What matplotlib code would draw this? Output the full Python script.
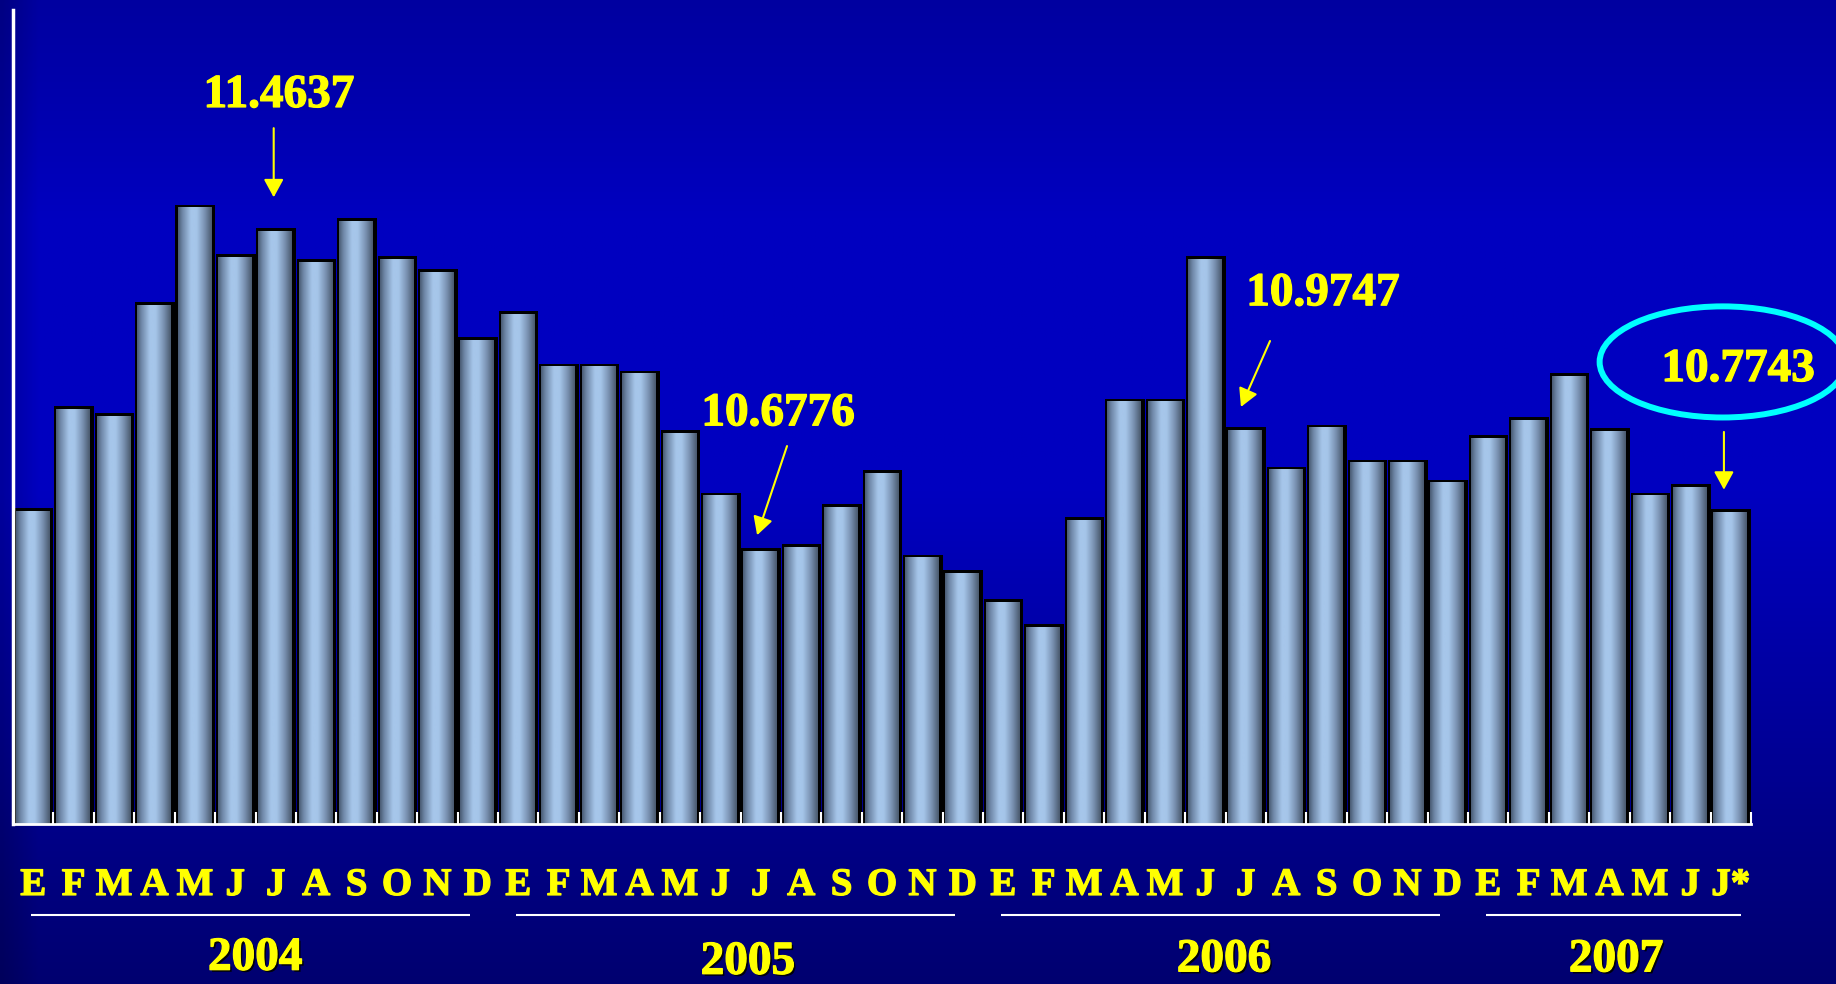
# 导入必要的库
import numpy as np  # 数值计算库
import matplotlib  # 绘图基础库
matplotlib.use('Agg')
import matplotlib.pyplot as plt  # 绘图库
from matplotlib.patches import Rectangle, Ellipse
from matplotlib.colors import LinearSegmentedColormap
import matplotlib.patheffects as pe

# 字体：Times 风格的粗体衬线字
plt.rcParams['font.family'] = ['Liberation Serif', 'DejaVu Serif']

# ---------- 数据 ----------
meses = ['E', 'F', 'M', 'A', 'M', 'J', 'J', 'A', 'S', 'O', 'N', 'D']
meses_2007 = ['E', 'F', 'M', 'A', 'M', 'J', 'J*']
anios = ['2004', '2005', '2006', '2007']

v2004 = [10.777, 11.027, 11.010, 11.283, 11.522, 11.401, 11.4637, 11.387, 11.488, 11.396, 11.364, 11.197]
v2005 = [11.260, 11.131, 11.131, 11.114, 10.967, 10.814, 10.6776, 10.688, 10.786, 10.869, 10.662, 10.624]
v2006 = [10.553, 10.492, 10.754, 11.045, 11.045, 11.396, 10.9747, 10.878, 10.981, 10.895, 10.895, 10.846]
v2007 = [10.955, 10.999, 11.108, 10.973, 10.814, 10.835, 10.7743]

# 需要标注的柱子（索引）
destacados = [6, 18, 30, 42]
etiquetas = ['11.4637', '10.6776', '10.9747', '10.7743']

valores = v2004 + v2005 + v2006 + v2007
letras = meses * 3 + meses_2007
grupos = [len(v2004), len(v2005), len(v2006), len(v2007)]

# ---------- 画布 ----------
fig = plt.figure(figsize=(18.36, 9.84), dpi=100)

# 背景渐变（深蓝）
bg = fig.add_axes([0, 0, 1, 1], zorder=-10)
bg.axis('off')
H, W = 400, 400
yy = np.linspace(0, 1, H)
azul = np.interp(yy, [0, 0.12, 0.22, 0.5, 0.75, 0.84, 0.93, 1.0],
                 [0xA0, 0xB0, 0xC0, 0xC0, 0x98, 0x88, 0x7A, 0x70]) / 255.0
xx = np.linspace(0, 1, W)
borde = np.interp(xx, [0, 0.02, 1], [0.82, 1.0, 1.0])
img = np.zeros((H, W, 3))
img[:, :, 2] = azul[:, None] * borde[None, :]
bg.imshow(img, aspect='auto', extent=[0, 1, 0, 1], origin='upper')
bg.set_xlim(0, 1)
bg.set_ylim(0, 1)

ax = fig.add_axes([13 / 1836, 160 / 984, 1738 / 1836, 814 / 984])
ax.set_facecolor('none')

# 柱子的横向渐变
cmap_bar = LinearSegmentedColormap.from_list('barra', [
    (0.0, '#4a5c74'), (0.12, '#6e86a6'), (0.38, '#a6c6ea'),
    (0.55, '#a6c6ea'), (0.8, '#7890b0'), (1.0, '#4a5a6e')])
grad = np.linspace(0, 1, 64)[None, :]

for i, v in enumerate(valores):
    # 黑色边框/阴影
    ax.add_patch(Rectangle((i - 0.48, 10), 0.98, v - 10, facecolor='black',
                           edgecolor='none', zorder=1))
    ax.imshow(grad, cmap=cmap_bar, aspect='auto', zorder=1.5,
              extent=[i - 0.43, i + 0.41, 10, v - 0.008], interpolation='bicubic')

ax.set_xlim(-0.5, len(valores) - 0.5)
ax.set_ylim(10, 12)

# 坐标轴样式
for s in ['top', 'right']:
    ax.spines[s].set_visible(False)
ax.spines['left'].set_color('white')
ax.spines['left'].set_linewidth(2.5)
ax.spines['bottom'].set_color('white')
ax.spines['bottom'].set_linewidth(2)
ax.set_axisbelow(False)
ax.set_yticks([])
ax.set_xticks(np.arange(-0.5, len(valores), 1))
ax.set_xticklabels([])
ax.tick_params(axis='x', direction='in', length=8.5, width=1.5, color='white')

amarillo = '#FFFF00'
grueso = [pe.withStroke(linewidth=0.9, foreground=amarillo)]

# 月份标签
for i, l in enumerate(letras):
    ax.text(i, 9.8256, l, ha='center', va='baseline', fontsize=28,
            fontweight='bold', color=amarillo, clip_on=False, path_effects=grueso)

# 年份下划线与年份
sombra = [pe.withSimplePatchShadow(offset=(1.5, -1.5), shadow_rgbFace='black', alpha=0.9),
          pe.withStroke(linewidth=0.9, foreground=amarillo)]
anio_y = [9.642, 9.632, 9.638, 9.638]
anio_dx = [5.49, 5.68, 5.46, 3.16]
inicio = 0
for k, n in enumerate(grupos):
    fin = inicio + n - 1.19 if n == 12 else inicio + n - 0.75
    ax.plot([inicio - 0.06, fin], [9.7764, 9.7764], color='white', lw=1.5,
            clip_on=False, solid_capstyle='butt')
    ax.text(inicio + anio_dx[k], anio_y[k], anios[k], ha='center',
            va='baseline', fontsize=34, fontweight='bold', color=amarillo,
            clip_on=False, path_effects=sombra)
    inicio += n

# 标注数值与箭头（相对柱顶的偏移）
texto_off = [(0.08, 0.298), (0.43, 0.302), (1.91, 0.300), (0.18, 0.314)]
flecha_ini = [(-0.05, 0.246), (0.65, 0.251), (0.60, 0.212), (-0.17, 0.189)]
flecha_fin = [(-0.05, 0.076), (-0.09, 0.032), (-0.12, 0.050), (-0.17, 0.047)]
for k, idx in enumerate(destacados):
    v = valores[idx]
    ax.text(idx + texto_off[k][0], v + texto_off[k][1], etiquetas[k],
            ha='center', va='baseline', fontsize=34, fontweight='bold',
            color=amarillo, clip_on=False, path_effects=grueso)
    ax.annotate('', xy=(idx + flecha_fin[k][0], v + flecha_fin[k][1]),
                xytext=(idx + flecha_ini[k][0], v + flecha_ini[k][1]),
                arrowprops=dict(arrowstyle='-|>,head_length=1.1,head_width=0.6',
                                mutation_scale=10, color=amarillo, lw=1.5,
                                shrinkA=0, shrinkB=0),
                annotation_clip=False)

# 最后一个值的青色椭圆
ult = destacados[-1]
ax.add_patch(Ellipse((ult - 0.2, valores[ult] + 0.361), 6.09, 0.273,
                     facecolor='none', edgecolor='#00FFFF', lw=4.3,
                     clip_on=False, zorder=3))

fig.savefig('out.png', dpi=100)
plt.close(fig)
